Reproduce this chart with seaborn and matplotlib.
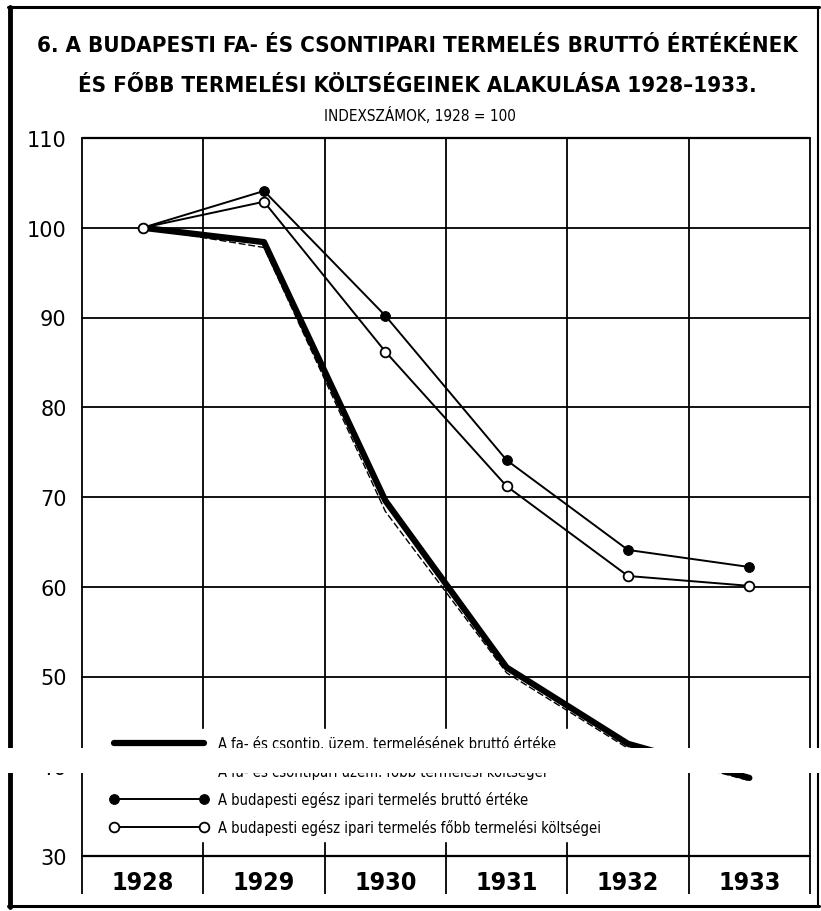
import pandas as pd
import matplotlib
matplotlib.use("Agg")
import matplotlib.pyplot as plt
import seaborn as sns
from matplotlib.patches import Rectangle
from matplotlib.lines import Line2D

# Adatok (indexszámok, 1928 = 100)
evek = [1928, 1929, 1930, 1931, 1932, 1933]
fa_brutto = [100, 98.4, 69.6, 51.0, 42.5, 38.7]
fa_koltseg = [100, 97.8, 68.4, 50.4, 42.0, 38.4]
bp_brutto = [100, 104.1, 90.2, 74.1, 64.1, 62.2]
bp_koltseg = [100, 102.9, 86.2, 71.2, 61.2, 60.1]
y_ticks = [30, 40, 50, 60, 70, 80, 90, 100, 110]

cimkek = [
    "A fa- és csontip. üzem. termelésének bruttó értéke",
    "A fa- és csontipari üzem. főbb termelési költségei",
    "A budapesti egész ipari termelés bruttó értéke",
    "A budapesti egész ipari termelés főbb termelési költségei",
]

sns.set_style("white")
plt.rcParams["font.family"] = ["DejaVu Sans"]
plt.rcParams["text.color"] = "black"
plt.rcParams["xtick.color"] = "black"
plt.rcParams["ytick.color"] = "black"

fig = plt.figure(figsize=(8.21, 9.12), dpi=100)
ax = fig.add_axes([82 / 821, 55 / 912, 728 / 821, 718 / 912])

# Racs
for y in y_ticks:
    ax.axhline(y, color="black", lw=1.6 if y in (30, 110) else 1.3,
               zorder=1, clip_on=False)
grid_x = [evek[0] - 0.5 + k for k in range(7)]
ax.vlines(grid_x, -0.053, 1, transform=ax.get_xaxis_transform(),
          color="black", lw=1.3, clip_on=False, zorder=1)

# Vonalak
sns.lineplot(x=evek, y=fa_koltseg, ax=ax, color="black", lw=1.0,
             linestyle=(0, (5, 2)), label=cimkek[1], zorder=3)
sns.lineplot(x=evek, y=fa_brutto, ax=ax, color="black", lw=4.5,
             label=cimkek[0], zorder=4)
sns.lineplot(x=evek, y=bp_brutto, ax=ax, color="black", lw=1.4,
             marker="o", markersize=7, markerfacecolor="black",
             markeredgecolor="black", label=cimkek[2], zorder=4)
sns.lineplot(x=evek, y=bp_koltseg, ax=ax, color="black", lw=1.4,
             marker="o", markersize=7, markerfacecolor="white",
             markeredgecolor="black", markeredgewidth=1.3,
             label=cimkek[3], zorder=4)

ax.set_xlim(evek[0] - 0.5, evek[-1] + 0.5)
ax.set_ylim(30, 110)
ax.set_yticks(y_ticks, [str(v) for v in y_ticks], fontsize=15)
ax.set_xticks(evek, [str(e) for e in evek])
for t in ax.get_xticklabels():
    t.set_fontstretch("condensed")
    t.set_fontweight("bold")
    t.set_fontsize(18)
ax.tick_params(axis="y", length=0, pad=11)
ax.tick_params(axis="x", length=0, pad=10)
ax.set_xlabel("")
ax.set_ylabel("")
for s in ax.spines.values():
    s.set_visible(False)

# Jelmagyarazat
handles, labels = ax.get_legend_handles_labels()
order = [1, 0, 2, 3]
leg = ax.legend([handles[i] for i in order], [labels[i] for i in order],
                loc="upper left", bbox_to_anchor=(0.02, 0.187),
                prop={"stretch": "condensed", "size": 10.5},
                numpoints=2, handlelength=6.8, handletextpad=0.6,
                labelspacing=0.83, frameon=True, fancybox=False,
                framealpha=1, facecolor="white", edgecolor="white",
                borderpad=0.4)
leg.set_zorder(2)

# Cim
fig.text(0.508, 0.950, "6. A BUDAPESTI FA- ÉS CSONTIPARI TERMELÉS BRUTTÓ ÉRTÉKÉNEK",
         ha="center", va="center", fontstretch="condensed", fontweight="bold", fontsize=16)
fig.text(0.508, 0.906, "ÉS FŐBB TERMELÉSI KÖLTSÉGEINEK ALAKULÁSA 1928–1933.",
         ha="center", va="center", fontstretch="condensed", fontweight="bold", fontsize=16)
fig.text(0.512, 0.873, "INDEXSZÁMOK, 1928 = 100",
         ha="center", va="center", fontstretch="condensed", fontsize=11)

# Keret
fig.add_artist(Line2D([10 / 821, 10 / 821], [4 / 912, 904 / 912], color="black", lw=3.5))
fig.add_artist(Line2D([8 / 821, 819 / 821], [904 / 912, 904 / 912], color="black", lw=2.2))
fig.add_artist(Line2D([8 / 821, 819 / 821], [5 / 912, 5 / 912], color="black", lw=2.2))
fig.add_artist(Line2D([818 / 821, 818 / 821], [5 / 912, 904 / 912], color="black", lw=1.5))

# Hianyzo sav a szkennelt kepen
fig.add_artist(Rectangle((0, 138 / 912), 1, 25 / 912, transform=fig.transFigure,
                         facecolor="white", edgecolor="none", zorder=10))

fig.savefig("out.png", dpi=100)
